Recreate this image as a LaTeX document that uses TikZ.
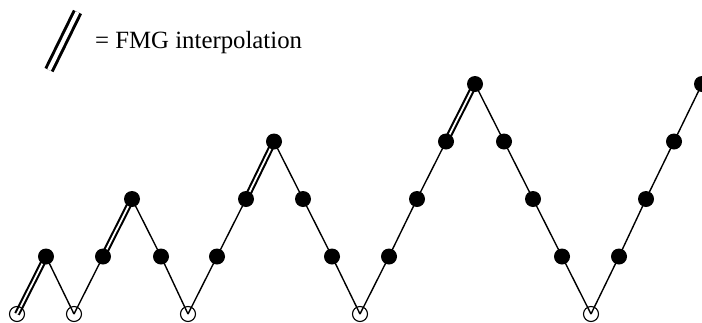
\documentclass[tikz,border=0pt]{standalone}
\usepackage{fontspec}
\setmainfont{Liberation Serif}
\usetikzlibrary{backgrounds}
\begin{document}
\begin{tikzpicture}[x=1pt,y=-1pt,
  leveldot/.style={circle,fill=black,inner sep=0pt,minimum size=16pt},
  coarsest/.style={circle,draw=black,line width=1.1pt,inner sep=0pt,minimum size=15pt},
  cycleline/.style={line width=1.4pt},
  fmgline/.style={draw=black,double=white,line width=2.1pt,double distance=1.8pt},
  legendline/.style={draw=black,double=white,line width=3pt,double distance=4pt},
  legendtext/.style={anchor=base west,inner sep=0pt,font=\fontsize{24.8}{29}\selectfont},
]
\useasboundingbox (0,0) rectangle (702,322);

% grid levels: 0 = coarsest (open circles), 4 = finest
\def\lvA{314}\def\lvB{256.5}\def\lvC{199}\def\lvD{141.5}\def\lvE{84}

% visits of the full multigrid cycle, by level
\foreach \i/\x in {0/17,2/74,6/188,12/360,20/591}{
  \node[coarsest] (n\i) at (\x,\lvA) {};
}
\foreach \i/\x in {1/46,3/103,5/161,7/217,11/332,13/389,19/562,21/619}{
  \node[leveldot] (n\i) at (\x,\lvB) {};
}
\foreach \i/\x in {4/132,8/246,10/303,14/417,18/533,22/646}{
  \node[leveldot] (n\i) at (\x,\lvC) {};
}
\foreach \i/\x in {9/274,15/446,17/504,23/674}{
  \node[leveldot] (n\i) at (\x,\lvD) {};
}
\foreach \i/\x in {16/475,24/702}{
  \node[leveldot] (n\i) at (\x,\lvE) {};
}

\begin{scope}[on background layer]
  % ordinary restriction / prolongation steps
  \foreach \a/\b in {1/2,2/3,4/5,5/6,6/7,7/8,9/10,10/11,11/12,12/13,13/14,14/15,
                     16/17,17/18,18/19,19/20,20/21,21/22,22/23,23/24}{
    \draw[cycleline] (n\a.center) -- (n\b.center);
  }
  % FMG interpolation steps
  \foreach \a/\b in {0/1,3/4,8/9,15/16}{
    \draw[fmgline] (n\a.center) -- (n\b.center);
  }
\end{scope}

% legend
\coordinate (legA) at (49,70);
\coordinate (legB) at (77.5,12);
\draw[legendline] (legA) -- (legB);
\node[legendtext] (legtext) at (95,48) {= FMG interpolation};
\end{tikzpicture}
\end{document}
